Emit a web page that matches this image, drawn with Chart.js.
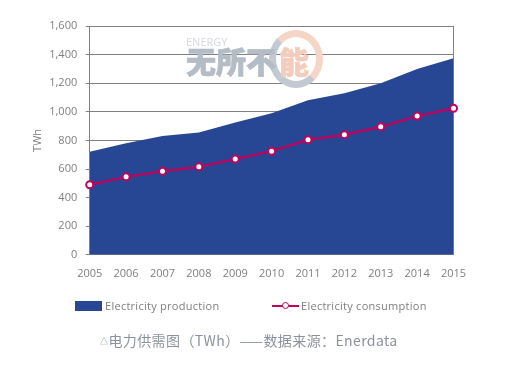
<!DOCTYPE html>
<html>
<head>
<meta charset="utf-8">
<script src="https://cdn.jsdelivr.net/npm/chart.js@4"></script>
<style>
  body { margin: 0; background: #fff; }
  #wrap { position: relative; width: 508px; height: 368px; overflow: hidden; }
  .abs { position: absolute; white-space: nowrap; }
  .legendText { font: 11px "Open Sans", sans-serif; color: #7f7f7f; line-height: 14px; top: 299px; letter-spacing: .27px; }
  #caption { left: 100px; top: 330px; font: 14px/20px "Noto Sans CJK SC", sans-serif; color: #8b929e; letter-spacing: .4px; }
  #caption small { font-size: 8px; vertical-align: 2px; }
  .wm { font: 900 30px/30px "Noto Sans CJK SC", sans-serif; top: 45px; -webkit-text-stroke: .7px currentColor; }
</style>
</head>
<body>
<div id="wrap">
  <canvas id="graph1" width="508" height="368"></canvas>

  <!-- filigrane -->
  <div class="abs" style="left:269px;top:30px;width:40px;height:44px;border:7px solid #f5d5c6;border-radius:50%;border-left-color:#c3c9d0;border-bottom-color:#c3c9d0;"></div>
  <div class="abs" style="left:186px;top:35px;font:11px/14px 'Open Sans',sans-serif;color:#d4d8dd;">ENERGY</div>
  <div class="abs wm" style="left:186px;color:#b4bcc6;">无所不</div>
  <div class="abs wm" style="left:279px;color:#f3cdbc;">能</div>

  <!-- legende -->
  <div class="abs" style="left:75px;top:301px;width:27px;height:10px;background:#274693;"></div>
  <div class="abs legendText" style="left:105px;">Electricity production</div>
  <div class="abs" style="left:272px;top:305px;width:27px;height:2px;background:#c0045c;"></div>
  <div class="abs" style="left:282px;top:302px;width:5px;height:5px;background:#fff;border:1.5px solid #c0045c;border-radius:50%;"></div>
  <div class="abs legendText" style="left:301px;">Electricity consumption</div>

  <div class="abs" id="caption"><small>△</small>电力供需图（TWh）——数据来源：Enerdata</div>
</div>

<script>
/*------------------------------*/
/*     DONNEES                  */
/*------------------------------*/
var years = ['2005', '2006', '2007', '2008', '2009', '2010', '2011', '2012', '2013', '2014', '2015']
var production = [720, 780, 830, 855, 925, 990, 1080, 1130, 1200, 1300, 1375]
var consumption = [490, 545, 585, 615, 670, 725, 805, 840, 895, 970, 1025]
var yTickLabels = ['0', '200', '400', '600', '800', '1,000', '1,200', '1,400', '1,600']

/*------------------------------*/
/*     GRAPHIQUE                */
/*------------------------------*/
var tickFont = { family: 'Open Sans', size: 11 }
var ctx = document.getElementById('graph1').getContext('2d')

var graph1 = new Chart(ctx, {
  type: 'line',
  data: {
    labels: years,
    datasets: [{
      label: 'Electricity consumption',
      data: consumption,
      borderColor: '#b8055f',
      borderWidth: 2.5,
      backgroundColor: '#fff',
      pointRadius: 3.5,
      pointBorderWidth: 2,
      pointBorderColor: '#c0045c',
      pointBackgroundColor: '#fff',
      fill: false,
      clip: false,
      order: 1
    }, {
      label: 'Electricity production',
      data: production,
      borderWidth: 0,
      backgroundColor: '#274693',
      pointRadius: 0,
      fill: 'origin',
      order: 2
    }]
  },
  options: {
    responsive: false,
    animation: false,
    layout: { padding: { left: 31.5, right: 46.5, top: 26, bottom: 84 } },
    plugins: { legend: { display: false }, tooltip: { enabled: false } },
    scales: {
      x: {
        offset: false,
        grid: { display: false },
        border: { display: false },
        ticks: { font: tickFont, color: '#7f7f7f', padding: 4, maxRotation: 0, autoSkip: false }
      },
      y: {
        min: 0,
        max: 1600,
        afterFit: function (scale) { scale.width -= 4 },
        grid: { color: '#808080', lineWidth: 1, tickLength: 4, tickColor: '#808080' },
        border: { display: true, color: '#808080' },
        title: { display: true, text: 'TWh', font: tickFont, color: '#7f7f7f', padding: 0 },
        ticks: {
          stepSize: 200,
          font: tickFont,
          color: '#7f7f7f',
          padding: 8.5,
          callback: function (v, i) { return yTickLabels[i] }
        }
      },
      y2: {
        position: 'right',
        min: 0,
        max: 1600,
        grid: { display: false },
        border: { display: true, color: '#808080' },
        ticks: { display: false }
      }
    }
  }
})
</script>
</body>
</html>
